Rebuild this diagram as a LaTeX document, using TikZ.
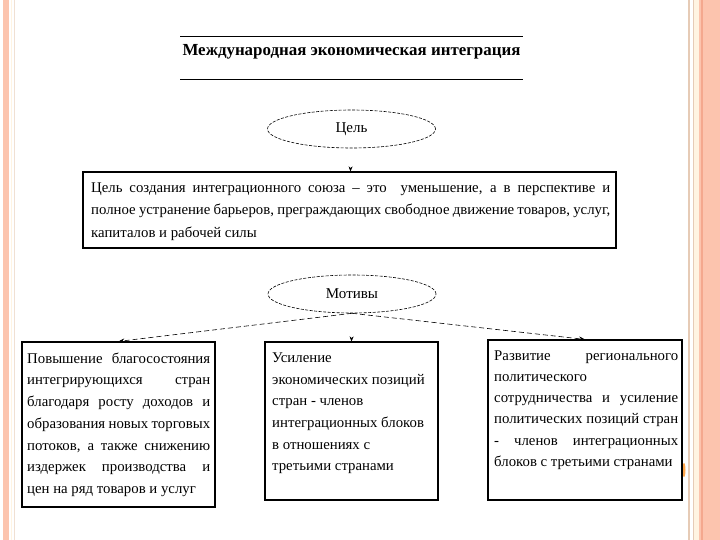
\documentclass[tikz,border=0pt]{standalone}
\usepackage{fontspec}
\setmainfont{Liberation Serif}
\usetikzlibrary{shapes.geometric,arrows.meta}
\definecolor{salmon}{HTML}{FCC4AE}
\definecolor{salmondk}{HTML}{F4A88E}
\definecolor{tan}{HTML}{E6CBB6}
\definecolor{cream}{HTML}{FFF4E2}
\newcommand\jl[2]{\makebox[#1][s]{#2}}
\tikzset{
  oval/.style={ellipse, draw, dashed, dash pattern=on 3pt off 1.5pt, line width=0.6pt, minimum width=168pt, minimum height=38pt, inner sep=0pt, font=\fontsize{15}{17}\selectfont},
  framebox/.style={draw, line width=1.2pt, rectangle, inner sep=0pt},
  bodytext/.style={anchor=north west, inner sep=0pt, align=left, font=\fontsize{14.8}{21.7}\selectfont},
  conn/.style={dashed, dash pattern=on 5pt off 3pt, line width=0.6pt, -{Stealth[length=6pt,width=4.5pt]}},
  hidden/.style={draw=white, line width=0.4pt, -{Stealth[length=5pt,width=4pt,black]}},
}
\begin{document}
\begin{tikzpicture}[x=1pt,y=-1pt]
\useasboundingbox (0,0) rectangle (720,540);
% slide border decoration
\fill[salmon] (3,0) rectangle (9,540);
\fill[cream] (11,0) rectangle (12,540);
\fill[tan!60] (14,0) rectangle (15,540);
\fill[tan] (688,0) rectangle (690,540);
\fill[tan] (692.5,0) rectangle (694,540);
\fill[cream] (694,0) rectangle (699,540);
\fill[salmon] (699,0) rectangle (720,540);
\fill[salmondk] (701,0) rectangle (703,540);
\fill[orange!70] (684,470) ellipse (1.5 and 7);
% title
\draw[line width=0.9pt] (180,36) -- (523,36);
\draw[line width=0.9pt] (180,79) -- (523,79);
\node[font=\fontsize{16.9}{19}\selectfont\bfseries] (title) at (351.5,52) {Международная экономическая интеграция};
% goal
\node[oval] (goal) at (351.5,129) {Цель};
\node[framebox, minimum width=533pt, minimum height=76pt] (gbox) at (349.5,210) {};
\node[bodytext, font=\fontsize{14.8}{22.5}\selectfont] (gtext) at (91,182.5) {\jl{519pt}{Цель создания интеграционного союза – это \ уменьшение, а в перспективе и}\\
\jl{519pt}{полное устранение барьеров, преграждающих свободное движение товаров, услуг,}\\
капиталов и рабочей силы};
\draw[hidden] (goal) -- (gbox);
% motives
\node[oval] (mot) at (352,294) {Мотивы};
\node[framebox, minimum width=193pt, minimum height=165pt] (b1) at (118.5,424.5) {};
\node[framebox, minimum width=173pt, minimum height=158pt] (b2) at (351.5,421) {};
\node[framebox, minimum width=194pt, minimum height=160pt] (b3) at (585,420) {};
\node[bodytext] (t1) at (27,352.5) {\jl{183pt}{Повышение благосостояния}\\
\jl{183pt}{интегрирующихся стран}\\
\jl{183pt}{благодаря росту доходов и}\\
\jl{183pt}{образования новых торговых}\\
\jl{183pt}{потоков, а также снижению}\\
\jl{183pt}{издержек производства и}\\
цен на ряд товаров и услуг};
\node[bodytext] (t2) at (272,352.5) {Усиление\\
экономических позиций\\
стран - членов\\
интеграционных блоков\\
в отношениях с\\
третьими странами};
\node[bodytext, font=\fontsize{14.8}{21.2}\selectfont] (t3) at (494,350.5) {\jl{184pt}{Развитие регионального}\\
политического\\
\jl{184pt}{сотрудничества и усиление}\\
\jl{184pt}{политических позиций стран}\\
\jl{184pt}{- членов интеграционных}\\
блоков с третьими странами};
\draw[conn] (mot.south) -- (b1.north);
\draw[hidden] (mot.south) -- (b2.north);
\draw[conn] (mot.south) -- (b3.north);
\end{tikzpicture}
\end{document}
